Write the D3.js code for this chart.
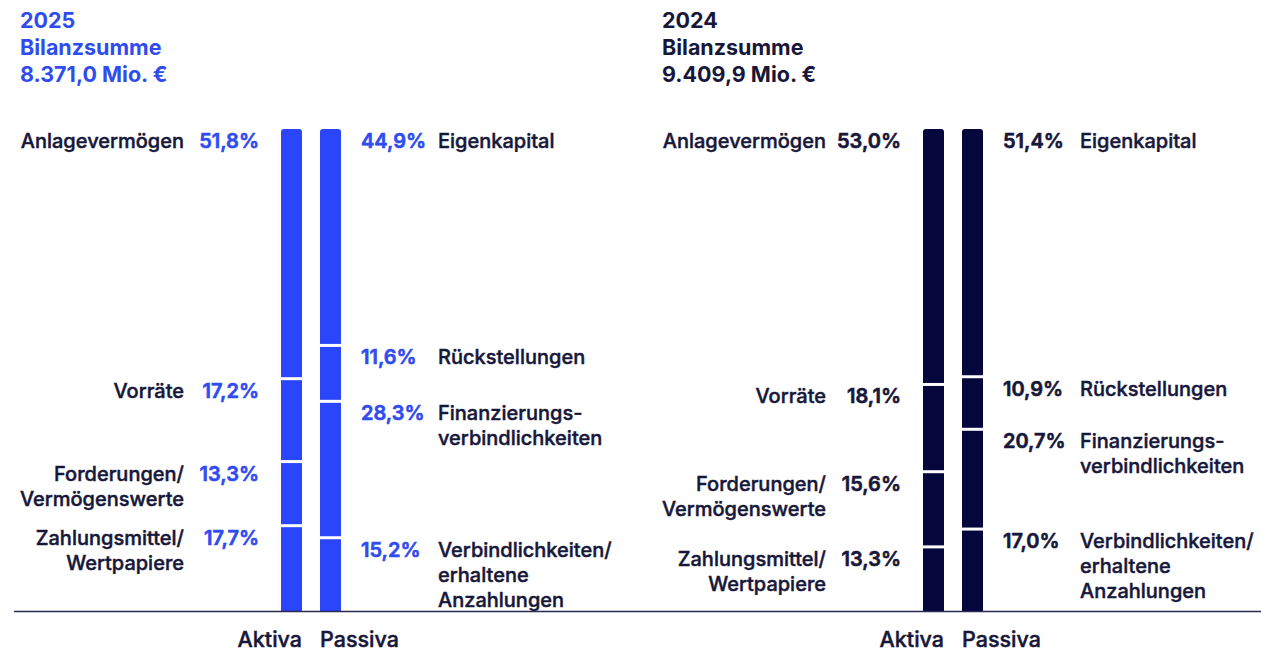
<!DOCTYPE html>
<html>
<head>
<meta charset="utf-8">
<script src="https://cdn.jsdelivr.net/npm/d3@7"></script>
<style>
  body { margin: 0; background: #fff; }
  text { font-family: Inter, "Liberation Sans", sans-serif; }
</style>
</head>
<body>
<div id="chart"></div>
<script>
// Chart data
var years = ["2025", "2024"];
var totals = ["8.371,0 Mio. €", "9.409,9 Mio. €"];

var aktivaLabels = [["Anlagevermögen"], ["Vorräte"], ["Forderungen/", "Vermögenswerte"], ["Zahlungsmittel/", "Wertpapiere"]];
var passivaLabels = [["Eigenkapital"], ["Rückstellungen"], ["Finanzierungs-", "verbindlichkeiten"], ["Verbindlichkeiten/", "erhaltene", "Anzahlungen"]];

var aktiva2025 = [51.8, 17.2, 13.3, 17.7];
var passiva2025 = [44.9, 11.6, 28.3, 15.2];
var aktiva2024 = [53.0, 18.1, 15.6, 13.3];
var passiva2024 = [51.4, 10.9, 20.7, 17.0];

var svgWidth = 1261;
var svgHeight = 651;

var svg = d3.select("#chart")
  .append("svg")
  .attr("width", svgWidth)
  .attr("height", svgHeight);

var labelColor = "#17173a";
var panels = [
  { year: years[0], total: totals[0], aktiva: aktiva2025, passiva: passiva2025, bar: "#2b45fb", pct: "#2f4cf0", head: "#2f4cf0", x: 0 },
  { year: years[1], total: totals[1], aktiva: aktiva2024, passiva: passiva2024, bar: "#05063b", pct: labelColor, head: labelColor, x: 642 }
];

// shared vertical scale (percent of balance sheet total)
var y = d3.scaleLinear().domain([0, 100]).range([129, 611]);
var barW = 21;
var gap = 3;

function fmt(v) {
  return d3.format(".1f")(v).replace(".", ",") + "%";
}

function stack(vals) {
  var cum = 0;
  return vals.map(function(v, i) {
    var s = { i: i, v: v, y0: cum, y1: cum + v };
    cum += v;
    return s;
  });
}

// slightly heavier than regular, like a medium cut
function medium(sel, color, w) {
  sel.attr("stroke", color).attr("stroke-width", w || 0.45).attr("paint-order", "stroke");
}

var defs = svg.append("defs");

panels.forEach(function(p, pi) {
  var g = svg.append("g").attr("transform", `translate(${p.x}, 0)`);

  // header
  var head = g.append("text")
    .attr("x", 20)
    .attr("y", 28)
    .attr("fill", p.head)
    .attr("font-size", 21.5)
    .attr("font-weight", 700);
  [p.year, "Bilanzsumme", p.total].forEach(function(t, i) {
    head.append("tspan").attr("x", 20).attr("dy", i === 0 ? 0 : 27).text(t);
  });

  var cols = [
    { vals: p.aktiva, labels: aktivaLabels, x: 281, side: "left", name: "Aktiva" },
    { vals: p.passiva, labels: passivaLabels, x: 320, side: "right", name: "Passiva" }
  ];

  cols.forEach(function(c, ci) {
    var clipId = "clip" + pi + "_" + ci;
    defs.append("clipPath").attr("id", clipId)
      .append("rect")
      .attr("x", c.x + p.x).attr("y", y(0))
      .attr("width", barW).attr("height", y(100) - y(0) + 10)
      .attr("rx", 3);

    var segs = stack(c.vals);

    g.append("g")
      .attr("clip-path", `url(#${clipId})`)
      .attr("transform", `translate(${-p.x}, 0)`)
      .selectAll("rect")
      .data(segs)
      .enter()
      .append("rect")
      .attr("x", c.x + p.x)
      .attr("y", d => y(d.y0) + (d.i > 0 ? gap / 2 : 0))
      .attr("width", barW)
      .attr("height", d => y(d.y1) - y(d.y0) - (d.i > 0 ? gap / 2 : 0) - (d.i < segs.length - 1 ? gap / 2 : 0))
      .attr("fill", p.bar);

    var left = c.side === "left";
    var pctX = left ? c.x - 22 : c.x + barW + 20;
    var labX = left ? c.x - 97 : c.x + barW + 97;
    var anchor = left ? "end" : "start";

    var lab = g.selectAll(".lab" + ci).data(segs).enter();

    lab.append("text")
      .attr("x", pctX)
      .attr("y", d => y(d.y0) + 19)
      .attr("text-anchor", anchor)
      .attr("font-size", 20)
      .attr("font-weight", 600)
      .attr("fill", p.pct)
      .call(medium, p.pct, 0.6)
      .text(d => fmt(d.v));

    lab.append("text")
      .attr("x", labX)
      .attr("y", d => y(d.y0) + 19)
      .attr("text-anchor", anchor)
      .attr("font-size", 20)
      .attr("font-weight", 500)
      .attr("fill", labelColor)
      .call(medium, labelColor)
      .each(function(d) {
        var t = d3.select(this);
        c.labels[d.i].forEach(function(line, li) {
          t.append("tspan").attr("x", labX).attr("dy", li === 0 ? 0 : 25).text(line);
        });
      });

    // column caption
    g.append("text")
      .attr("x", left ? c.x + barW : c.x)
      .attr("y", 647)
      .attr("text-anchor", anchor)
      .attr("font-size", 21.5)
      .attr("font-weight", 500)
      .attr("fill", labelColor)
      .call(medium, labelColor)
      .text(c.name);
  });
});

// baseline
svg.append("line")
  .attr("x1", 14).attr("x2", 1261)
  .attr("y1", y(100) + 0.5).attr("y2", y(100) + 0.5)
  .attr("stroke", "#2a2a52")
  .attr("stroke-width", 1.6);
</script>
</body>
</html>
